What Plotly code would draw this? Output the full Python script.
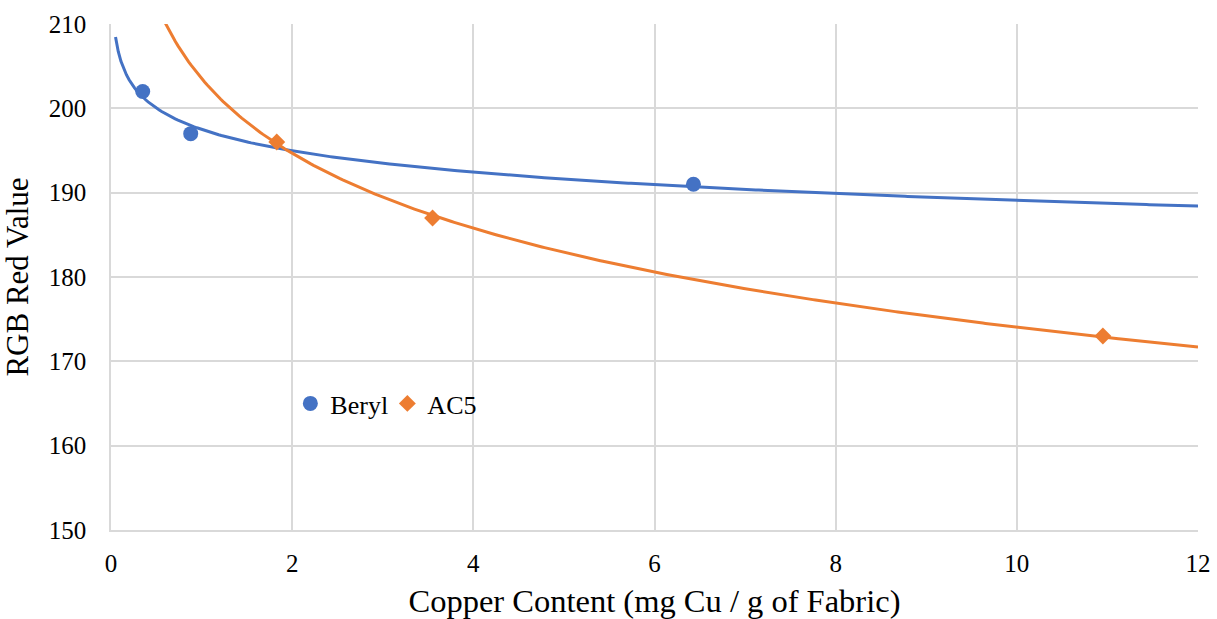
import numpy as np
import plotly.graph_objects as go

# Data
beryl_x = [0.35, 0.88, 6.43]
beryl_y = [202, 197, 191]
ac5_x = [1.83, 3.55, 10.95]
ac5_y = [196, 187, 173]

x_ticks = [0, 2, 4, 6, 8, 10, 12]
y_ticks = [150, 160, 170, 180, 190, 200, 210]

BLUE = "#4472C4"
ORANGE = "#ED7D31"
FONT = "Liberation Serif, Times New Roman, serif"


def log_fit(xs, ys, x0, x1):
    b, a = np.polyfit(np.log(xs), ys, 1)
    xx = np.linspace(x0, x1, 400)
    return xx, a + b * np.log(xx)


bx, by = log_fit(beryl_x, beryl_y, 0.05, 12)
ax_, ay = log_fit(ac5_x, ac5_y, 0.3, 12)

fig = go.Figure()
fig.add_trace(go.Scatter(x=bx, y=by, mode="lines", line=dict(color=BLUE, width=3),
                         showlegend=False, hoverinfo="skip"))
fig.add_trace(go.Scatter(x=ax_, y=ay, mode="lines", line=dict(color=ORANGE, width=3),
                         showlegend=False, hoverinfo="skip"))
fig.add_trace(go.Scatter(x=beryl_x, y=beryl_y, mode="markers", name="Beryl",
                         marker=dict(symbol="circle", size=15, color=BLUE)))
fig.add_trace(go.Scatter(x=ac5_x, y=ac5_y, mode="markers", name="AC5",
                         marker=dict(symbol="diamond", size=13, color=ORANGE)))

fig.update_layout(
    width=1217, height=619,
    margin=dict(l=111, r=19, t=24, b=89),
    paper_bgcolor="white", plot_bgcolor="white",
    font=dict(family=FONT, size=25, color="black"),
    legend=dict(orientation="h", x=0.165, y=0.25, xanchor="left", yanchor="middle",
                bgcolor="rgba(0,0,0,0)", font=dict(size=26), itemwidth=30,
                entrywidth=52, entrywidthmode="pixels", tracegroupgap=0),
    xaxis=dict(range=[0, 12], tickvals=x_ticks, showgrid=True, gridcolor="#d9d9d9",
               gridwidth=1.5, zeroline=False, showline=True, linecolor="#d9d9d9",
               linewidth=1.5, ticks="", ticklen=0, automargin=False,
               ticklabelstandoff=10,
               title=dict(text="Copper Content (mg Cu / g of Fabric)", font=dict(size=32.5),
                          standoff=13)),
    yaxis=dict(range=[150, 210], tickvals=y_ticks, showgrid=True, gridcolor="#d9d9d9",
               gridwidth=1.5, zeroline=False, showline=True, linecolor="#d9d9d9",
               linewidth=1.5, ticks="", ticklen=0, automargin=False,
               ticklabelstandoff=18,
               title=dict(text="RGB Red Value", font=dict(size=31), standoff=12)),
)

fig.write_html(
    "out.html",
    config={"displayModeBar": False},
    post_script="document.body.style.margin='0';document.body.style.overflow='hidden';",
)
